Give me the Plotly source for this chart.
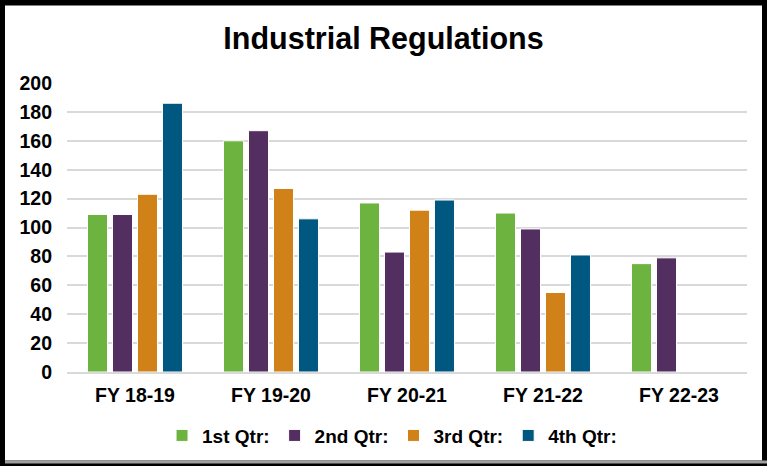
import plotly.graph_objects as go

years = ["FY 18-19", "FY 19-20", "FY 20-21", "FY 21-22", "FY 22-23"]
q1 = [109, 160, 117, 110, 75]
q2 = [109, 167, 83, 99, 79]
q3 = [123, 127, 112, 55, None]
q4 = [186, 106, 119, 81, None]

names = ["1st Qtr:", "2nd Qtr:", "3rd Qtr:", "4th Qtr:"]
colors = ["#6DB33F", "#532E60", "#D08218", "#00577F"]

fig = go.Figure()
for name, vals, col in zip(names, [q1, q2, q3, q4], colors):
    fig.add_trace(go.Bar(x=years, y=vals, name=name,
                         marker=dict(color=col, line=dict(color="white", width=1))))

font = "Liberation Sans, Arial, sans-serif"
fig.update_layout(
    width=767, height=466,
    margin=dict(l=67, r=20, t=83, b=92),
    paper_bgcolor="black", plot_bgcolor="white",
    barmode="group", bargap=0.265, bargroupgap=0.2,
    font=dict(family=font, size=19, color="black", weight="bold"),
    title=dict(text="Industrial Regulations", x=0.5, xanchor="center",
               y=1 - 38 / 466, yanchor="middle",
               font=dict(size=30.5, weight="bold", color="black")),
    showlegend=True,
    legend=dict(orientation="h", x=0.478, xanchor="center", y=-0.22, yanchor="middle",
                font=dict(size=19, weight="bold"), traceorder="normal",
                bgcolor="rgba(0,0,0,0)"),
)
fig.update_yaxes(range=[0, 200], dtick=20, showgrid=True, gridcolor="#D9D9D9",
                 gridwidth=2, zeroline=False, showline=False,
                 ticklabelstandoff=14, tickfont=dict(size=19.5, weight="bold"))
fig.update_xaxes(showline=True, linecolor="#D9D9D9", linewidth=2,
                 ticklabelstandoff=5, tickfont=dict(size=19.5, weight="bold"))

# white card inside a black frame (paper is black)
def px_x(p):
    return (p - 67) / 680

def px_y(p):
    return (374 - p) / 291

fig.add_shape(type="rect", xref="paper", yref="paper", layer="below",
              x0=px_x(5), y0=px_y(5), x1=px_x(762), y1=px_y(463),
              fillcolor="white", line=dict(width=0))
fig.add_shape(type="line", xref="paper", yref="paper", layer="below",
              x0=px_x(5), y0=px_y(464.5), x1=px_x(767), y1=px_y(464.5),
              line=dict(color="#A0A0A0", width=3))

fig.write_html("out.html", config={"displayModeBar": False},
               post_script="document.body.style.margin='0';")
